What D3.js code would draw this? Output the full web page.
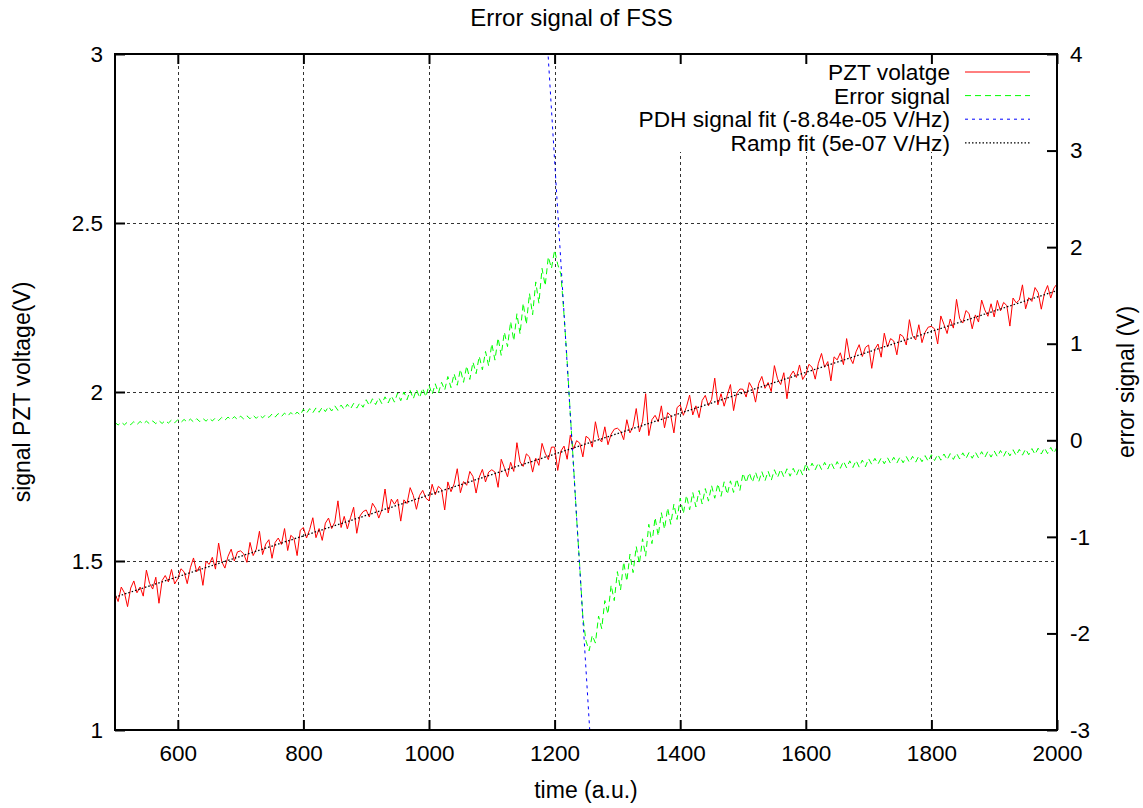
<!DOCTYPE html>
<html><head><meta charset="utf-8">
<script src="https://cdn.jsdelivr.net/npm/d3@7"></script>
<style>
html,body{margin:0;padding:0;background:#fff;}
text{font-family:"Liberation Sans",Arial,Helvetica,sans-serif;fill:#000;}
</style></head>
<body><svg id="chart" width="1143" height="808"></svg>
<script>
// ---------------- DATA ----------------
const timeStart = 500, timeEnd = 2000, timeStep = 5;
const sampleTime = d3.range(timeStart, timeEnd + 1, timeStep);

const pztVoltage = [
1.403,1.380,1.423,1.406,1.365,1.420,1.441,1.406,1.423,1.396,1.473,1.434,1.417,1.452,1.375,1.442,1.457,1.438,1.475,1.432,
1.448,1.477,1.468,1.433,1.480,1.509,1.468,1.485,1.428,1.499,1.490,1.511,1.476,1.553,1.498,1.479,1.514,1.535,1.500,1.527,
1.530,1.521,1.496,1.555,1.516,1.535,1.588,1.519,1.550,1.563,1.508,1.555,1.568,1.549,1.596,1.531,1.576,1.567,1.516,1.591,
1.599,1.568,1.593,1.628,1.569,1.596,1.561,1.612,1.627,1.596,1.615,1.678,1.599,1.632,1.595,1.628,1.659,1.582,1.633,1.646,
1.651,1.630,1.671,1.656,1.627,1.652,1.713,1.642,1.683,1.668,1.683,1.618,1.681,1.670,1.717,1.694,1.653,1.694,1.709,1.686,
1.678,1.727,1.696,1.721,1.712,1.651,1.734,1.705,1.728,1.773,1.702,1.735,1.724,1.765,1.750,1.701,1.748,1.771,1.734,1.763,
1.770,1.763,1.718,1.801,1.776,1.749,1.792,1.765,1.850,1.793,1.780,1.817,1.808,1.763,1.804,1.783,1.848,1.819,1.800,1.837,
1.837,1.768,1.825,1.840,1.801,1.872,1.831,1.856,1.849,1.808,1.869,1.862,1.837,1.912,1.865,1.852,1.897,1.844,1.875,1.890,
1.893,1.884,1.859,1.918,1.879,1.898,1.951,1.882,1.913,1.995,1.871,1.918,1.931,1.912,1.959,1.894,1.939,1.930,1.879,1.954,
1.962,1.931,1.956,1.991,1.932,1.959,1.924,1.975,1.990,1.959,1.978,2.041,1.962,1.995,1.958,1.991,2.022,1.945,1.996,2.009,
2.008,1.985,2.028,2.011,1.970,2.025,2.046,2.011,2.028,2.001,2.078,2.039,2.022,2.057,1.980,2.047,2.062,2.043,2.080,2.037,
2.053,2.082,2.073,2.038,2.085,2.114,2.073,2.090,2.033,2.104,2.095,2.116,2.081,2.158,2.103,2.084,2.119,2.140,2.105,2.132,
2.139,2.070,2.127,2.142,2.103,2.174,2.133,2.158,2.151,2.110,2.171,2.164,2.139,2.214,2.167,2.154,2.199,2.146,2.177,2.192,
2.194,2.187,2.142,2.225,2.200,2.173,2.216,2.189,2.274,2.217,2.204,2.241,2.232,2.187,2.228,2.207,2.272,2.243,2.224,2.261,
2.222,2.271,2.240,2.265,2.256,2.195,2.278,2.264,2.272,2.317,2.246,2.279,2.268,2.309,2.294,2.245,2.292,2.315,2.278,2.307,
2.320];

const errorSignal = [
0.185,0.158,0.188,0.160,0.190,0.162,0.193,0.163,0.195,0.168,0.198,0.170,0.200,0.172,0.203,0.174,0.205,0.178,0.210,0.180,
0.214,0.185,0.216,0.188,0.220,0.190,0.223,0.194,0.226,0.198,0.230,0.200,0.233,0.204,0.237,0.208,0.240,0.212,0.245,0.215,
0.250,0.220,0.253,0.223,0.258,0.227,0.262,0.232,0.266,0.236,0.272,0.240,0.277,0.245,0.282,0.250,0.288,0.255,0.293,0.260,
0.322,0.280,0.328,0.285,0.335,0.290,0.342,0.297,0.350,0.303,0.357,0.310,0.365,0.318,0.373,0.325,0.382,0.333,0.390,0.342,
0.420,0.360,0.430,0.370,0.440,0.378,0.450,0.386,0.460,0.395,0.490,0.410,0.500,0.420,0.515,0.430,0.527,0.440,0.540,0.450,
0.570,0.475,0.585,0.490,0.600,0.520,0.660,0.545,0.690,0.570,0.735,0.600,0.770,0.630,0.810,0.690,0.870,0.730,0.920,0.770,
1.000,0.830,1.060,0.880,1.120,0.970,1.230,1.030,1.310,1.100,1.420,1.200,1.520,1.300,1.640,1.420,1.780,1.600,1.900,1.780,
1.970,1.820,1.720,1.300,0.820,0.270,-0.240,-0.800,-1.300,-1.830,-2.080,-2.180,-2.020,-2.100,-1.820,-1.950,-1.660,-1.800,-1.500,-1.660,
-1.360,-1.550,-1.260,-1.460,-1.180,-1.370,-1.100,-1.280,-1.020,-1.200,-0.870,-1.070,-0.800,-0.990,-0.750,-0.920,-0.700,-0.870,-0.660,-0.820,
-0.600,-0.760,-0.570,-0.720,-0.540,-0.690,-0.520,-0.660,-0.500,-0.630,-0.470,-0.600,-0.450,-0.580,-0.430,-0.560,-0.420,-0.540,-0.400,-0.520,
-0.340,-0.440,-0.335,-0.435,-0.330,-0.430,-0.325,-0.420,-0.320,-0.415,-0.305,-0.385,-0.300,-0.380,-0.295,-0.372,-0.290,-0.365,-0.285,-0.360,
-0.240,-0.310,-0.237,-0.306,-0.233,-0.302,-0.229,-0.298,-0.225,-0.294,-0.221,-0.290,-0.217,-0.286,-0.213,-0.282,-0.209,-0.278,-0.205,-0.274,
-0.190,-0.250,-0.187,-0.246,-0.183,-0.243,-0.180,-0.240,-0.176,-0.236,-0.173,-0.233,-0.169,-0.229,-0.166,-0.226,-0.162,-0.222,-0.159,-0.219,
-0.150,-0.210,-0.146,-0.206,-0.142,-0.202,-0.138,-0.198,-0.134,-0.194,-0.130,-0.190,-0.126,-0.186,-0.122,-0.182,-0.118,-0.178,-0.114,-0.174,
-0.110,-0.170,-0.106,-0.166,-0.102,-0.162,-0.098,-0.158,-0.094,-0.154,-0.090,-0.150,-0.086,-0.146,-0.082,-0.142,-0.078,-0.138,-0.074,-0.134,
-0.070];

// PDH linear fit (error signal axis) and ramp fit (PZT axis), end points
const pdhFitTime = [1185, 1260];
const pdhFitValue = [4.48, -3.43];
const rampFitTime = [500, 2000];
const rampFitValue = [1.393, 2.300];

const xTicks = [600, 800, 1000, 1200, 1400, 1600, 1800, 2000];
const xTickLabels = ["600", "800", "1000", "1200", "1400", "1600", "1800", "2000"];
const yLeftTicks = [1, 1.5, 2, 2.5, 3];
const yLeftTickLabels = ["1", "1.5", "2", "2.5", "3"];
const yRightTicks = [-3, -2, -1, 0, 1, 2, 3, 4];
const yRightTickLabels = ["-3", "-2", "-1", "0", "1", "2", "3", "4"];
const yGridTicks = [1.5, 2, 2.5];
const xGridTicks = [600, 800, 1000, 1200, 1400, 1600, 1800];

const legendLabels = ["PZT volatge", "Error signal", "PDH signal fit (-8.84e-05 V/Hz)", "Ramp fit (5e-07 V/Hz)"];

// ---------------- LAYOUT ----------------
const W = 1143;
const L = 115, R = 1057, T = 54, B = 730;
const svg = d3.select("#chart");
const x = d3.scaleLinear().domain([timeStart, timeEnd]).range([L, R]);
const yL = d3.scaleLinear().domain([1, 3]).range([B, T]);
const yR = d3.scaleLinear().domain([-3, 4]).range([B, T]);
const FS_TICK = 22.5, FS_LEG = 22.7, FS_LAB = 23, FS_TITLE = 24;

svg.append("defs").append("clipPath").attr("id", "clip")
  .append("rect").attr("x", L).attr("y", T).attr("width", R - L).attr("height", B - T);

// grid
const grid = svg.append("g").attr("stroke", "#000").attr("stroke-width", 1)
  .attr("stroke-dasharray", "3,3").attr("opacity", 0.8);
grid.selectAll("line.vx").data(xGridTicks).join("line")
  .attr("x1", d => Math.round(x(d)) + 0.5).attr("x2", d => Math.round(x(d)) + 0.5)
  .attr("y1", T).attr("y2", B);
grid.selectAll("line.hy").data(yGridTicks).join("line")
  .attr("x1", L).attr("x2", R)
  .attr("y1", d => Math.round(yL(d)) + 0.5).attr("y2", d => Math.round(yL(d)) + 0.5);

// opaque legend box
svg.append("rect").attr("x", 625).attr("y", 63).attr("width", 420).attr("height", 89).attr("fill", "#fff");

// data
const plot = svg.append("g").attr("clip-path", "url(#clip)");
const pts = sampleTime.map((t, i) => ({t, p: pztVoltage[i], e: errorSignal[i]}));

plot.append("path").datum(pts)
  .attr("d", d3.line().x(d => x(d.t)).y(d => yL(d.p)))
  .attr("fill", "none").attr("stroke", "#ff0000").attr("stroke-width", 1);

plot.append("path").datum(pts)
  .attr("d", d3.line().x(d => x(d.t)).y(d => yR(d.e)))
  .attr("fill", "none").attr("stroke", "#00ff00").attr("stroke-width", 1)
  .attr("stroke-dasharray", "6,4");

plot.append("path").datum(pdhFitTime.map((t, i) => [t, pdhFitValue[i]]))
  .attr("d", d3.line().x(d => x(d[0])).y(d => yR(d[1])))
  .attr("fill", "none").attr("stroke", "#0000ff").attr("stroke-width", 1)
  .attr("stroke-dasharray", "3,4");

plot.append("path").datum(rampFitTime.map((t, i) => [t, rampFitValue[i]]))
  .attr("d", d3.line().x(d => x(d[0])).y(d => yL(d[1])))
  .attr("fill", "none").attr("stroke", "#000").attr("stroke-width", 1.3)
  .attr("stroke-dasharray", "1.5,2");

// border
svg.append("rect").attr("x", L).attr("y", T).attr("width", R - L).attr("height", B - T)
  .attr("fill", "none").attr("stroke", "#000").attr("stroke-width", 2);

// axes
function styleAxis(g) {
  g.select(".domain").remove();
  g.selectAll(".tick line").attr("stroke", "#000").attr("stroke-width", 2);
  g.selectAll(".tick text").attr("font-size", FS_TICK).attr("font-family", "Liberation Sans, Arial, sans-serif").attr("fill", "#000");
}
svg.append("g").attr("transform", `translate(0,${B})`)
  .call(d3.axisBottom(x).tickValues(xTicks).tickSize(-10).tickPadding(15)
    .tickFormat((d, i) => xTickLabels[i])).call(styleAxis);
svg.append("g").attr("transform", `translate(0,${T})`)
  .call(d3.axisTop(x).tickValues(xTicks).tickSize(-10).tickFormat("")).call(styleAxis);
svg.append("g").attr("transform", `translate(${L},0)`)
  .call(d3.axisLeft(yL).tickValues(yLeftTicks).tickSize(-10).tickPadding(12)
    .tickFormat((d, i) => yLeftTickLabels[i])).call(styleAxis);
svg.append("g").attr("transform", `translate(${R},0)`)
  .call(d3.axisRight(yR).tickValues(yRightTicks).tickSize(-10).tickPadding(13)
    .tickFormat((d, i) => yRightTickLabels[i])).call(styleAxis);

// titles
svg.append("text").attr("x", W / 2).attr("y", 26).attr("text-anchor", "middle")
  .attr("font-size", FS_TITLE).text("Error signal of FSS");
svg.append("text").attr("x", (L + R) / 2).attr("y", 798).attr("text-anchor", "middle")
  .attr("font-size", FS_LAB).text("time (a.u.)");
svg.append("text").attr("transform", `translate(30,${(T + B) / 2}) rotate(-90)`)
  .attr("text-anchor", "middle").attr("font-size", FS_LAB).text("signal PZT voltage(V)");
svg.append("text").attr("transform", `translate(1134,382) rotate(-90)`)
  .attr("text-anchor", "middle").attr("font-size", FS_LAB).text("error signal (V)");

// legend
const legendStyles = [
  {c: "#ff0000", dash: null, w: 1},
  {c: "#00ff00", dash: "6,4", w: 1},
  {c: "#0000ff", dash: "3,4", w: 1},
  {c: "#000", dash: "1.5,2", w: 1.3}
];
const lg = svg.append("g");
legendLabels.forEach((lab, i) => {
  const yb = 80 + i * 23.6;
  lg.append("text").attr("x", 950).attr("y", yb).attr("text-anchor", "end")
    .attr("font-size", FS_LEG).text(lab);
  lg.append("line").attr("x1", 965).attr("x2", 1030).attr("y1", yb - 8).attr("y2", yb - 8)
    .attr("stroke", legendStyles[i].c).attr("stroke-width", legendStyles[i].w)
    .attr("stroke-dasharray", legendStyles[i].dash);
});
</script></body></html>
